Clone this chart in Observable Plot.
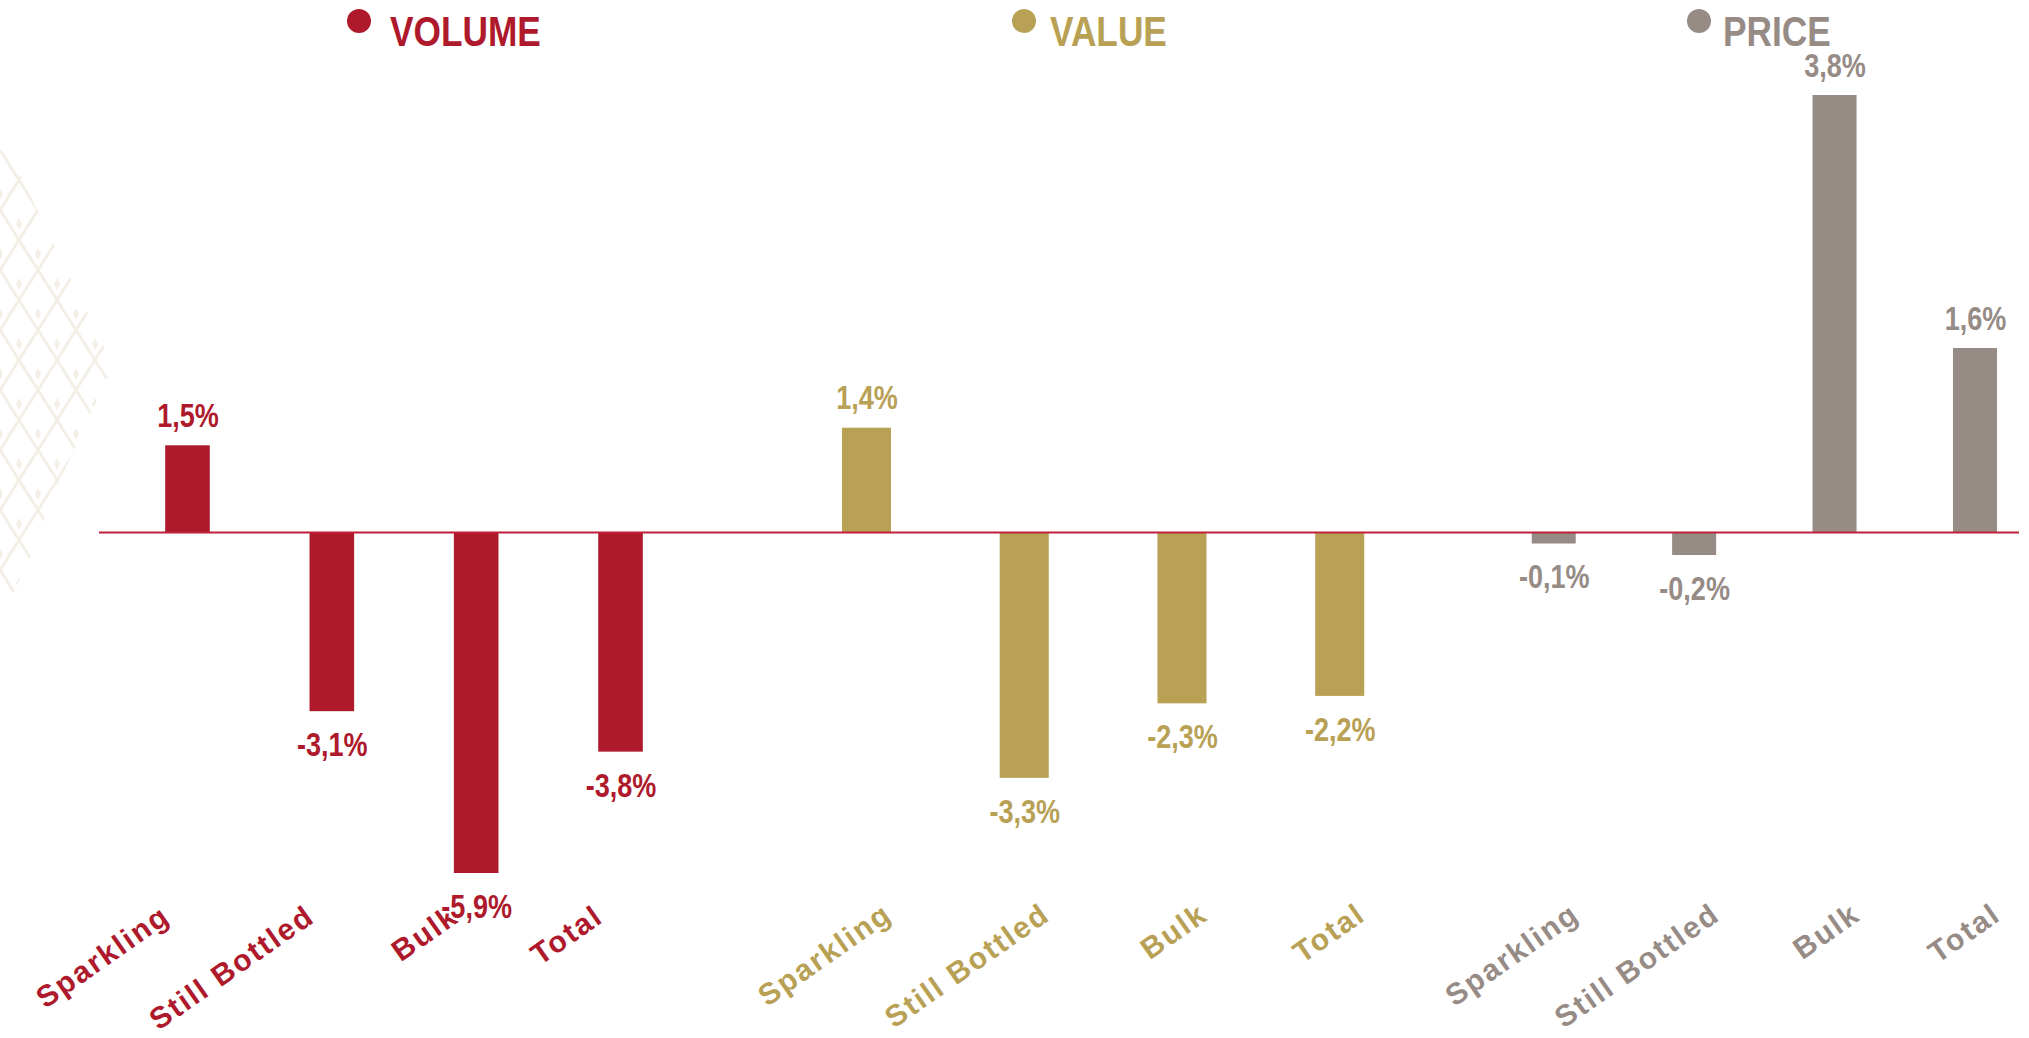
<!DOCTYPE html>
<html>
<head>
<meta charset="utf-8">
<script src="https://cdn.jsdelivr.net/npm/d3@7"></script>
<script src="https://cdn.jsdelivr.net/npm/@observablehq/plot@0.6"></script>
<style>
  html, body { margin: 0; padding: 0; background: #ffffff; }
  #wrap { position: relative; width: 2029px; height: 1038px; overflow: hidden; background: #ffffff; }
  #wrap .layer { position: absolute; left: 0; top: 0; }
  #wrap .layer svg { display: block; }
  .pattern {
    position: absolute; left: 0; top: 150px; width: 116px; height: 452px;
    background-image: url("data:image/svg+xml,%3Csvg xmlns='http://www.w3.org/2000/svg' width='38' height='60'%3E%3Cpath d='M0 0 L19 30 L38 0 M0 60 L19 30 L38 60' fill='none' stroke='%23f4efe6' stroke-width='3'/%3E%3Cpath d='M19 8 L22 14 L19 20 L16 14 Z M0 38 L3 44 L0 50 M38 38 L35 44 L38 50' fill='%23f4efe6'/%3E%3C/svg%3E");
    clip-path: polygon(0 0, 8px 0, 113px 215px, 60px 330px, 25px 420px, 8px 452px, 0 452px);
  }
  .legend { position: absolute; font-family: 'Liberation Sans', Arial, sans-serif;
            font-weight: bold; font-size: 43px; line-height: 43px; white-space: nowrap;
            transform: scaleX(0.82); transform-origin: 0 0; }
  .dot { position: absolute; width: 24px; height: 24px; border-radius: 50%; }
  g[font-size="30"] { letter-spacing: 2px; }
</style>
</head>
<body>
<div id="wrap">
  <div class="pattern"></div>
</div>
<script>
// ---- data ----
const categories = ["Sparkling", "Still Bottled", "Bulk", "Total"];
const volume = [1.5, -3.1, -5.9, -3.8];
const value  = [1.4, -3.3, -2.3, -2.2];
const price  = [-0.1, -0.2, 3.8, 1.6];
const seriesNames = ["VOLUME", "VALUE", "PRICE"];

// ---- styles / layout ----
const colors = {VOLUME: "#ae192c", VALUE: "#b8a055", PRICE: "#968b85"};
const font = "'Liberation Sans', Arial, sans-serif";
const W = 2029, H = 1038, ZERO = 532;
const layout = {
  VOLUME: {range: [115.3, 692.7], pad: 0.691, k: 57.8, ldx: -16, ly: 920, legend: {dot: 347, text: 390}},
  VALUE:  {range: [787.6, 1418.6], pad: 0.689, k: 74.5, ldx: 27, ly: 918, legend: {dot: 1012, text: 1050}},
  PRICE:  {range: [1483.5, 2045.2], pad: 0.6867, k: 115, ldx: 27, ly: 918, legend: {dot: 1687, text: 1723}}
};
const seriesValues = {VOLUME: volume, VALUE: value, PRICE: price};
const fmt = d => `${d.v.toFixed(1).replace(".", ",")}%`;

const wrap = document.getElementById("wrap");

seriesNames.forEach((name, gi) => {
  const L = layout[name];
  const color = colors[name];
  const data = categories.map((c, i) => ({cat: c, v: seriesValues[name][i]}));
  const isLast = gi === seriesNames.length - 1;
  const labelStyle = {fill: color, fontSize: 33, fontWeight: "bold", fontFamily: font,
                      stroke: "#ffffff", strokeWidth: 5, paintOrder: "stroke"};
  const chart = Plot.plot({
    width: W, height: H,
    marginTop: 0, marginBottom: 0, marginLeft: 99, marginRight: 10,
    style: {background: "transparent", overflow: "visible"},
    x: {type: "band", domain: categories, range: L.range, paddingInner: L.pad, paddingOuter: L.pad / 2, round: false, axis: null},
    y: {domain: [(ZERO - H) / L.k, ZERO / L.k], range: [H, 0], axis: null},
    marks: [
      Plot.barY(data, {x: "cat", y: "v", fill: color}),
      Plot.text(data, {x: "cat", text: "cat", frameAnchor: "bottom", rotate: -35, textAnchor: "end", lineAnchor: "bottom",
        dx: L.ldx, dy: L.ly - H, fill: color, fontSize: 30, fontWeight: "bold", fontFamily: font}),
      Plot.text(data, {filter: d => d.v >= 0, x: "cat", y: "v", text: fmt, lineAnchor: "bottom", dy: -19, ...labelStyle}),
      Plot.text(data, {filter: d => d.v < 0, x: "cat", y: "v", text: fmt, lineAnchor: "top", dy: 21, ...labelStyle}),
      isLast ? Plot.ruleY([0], {stroke: "#c0203a", strokeWidth: 2}) : null
    ]
  });
  // condensed look for value labels (Arial Narrow style)
  d3.select(chart).selectAll('g[font-size="33"] text').each(function() {
    const t = this.getAttribute("transform");
    if (t) {
      this.setAttribute("transform", t + " scale(0.82,1)");
    } else {
      const x = +this.getAttribute("x") || 0, y = +this.getAttribute("y") || 0;
      this.removeAttribute("x"); this.removeAttribute("y");
      this.setAttribute("transform", `translate(${x},${y}) scale(0.82,1)`);
    }
  });
  const layer = document.createElement("div");
  layer.className = "layer";
  layer.appendChild(chart);
  wrap.appendChild(layer);

  // legend
  const dot = document.createElement("div");
  dot.className = "dot";
  dot.style.left = L.legend.dot + "px";
  dot.style.top = "9px";
  dot.style.background = color;
  wrap.appendChild(dot);
  const lab = document.createElement("div");
  lab.className = "legend";
  lab.style.left = L.legend.text + "px";
  lab.style.top = "10px";
  lab.style.color = color;
  lab.textContent = name;
  wrap.appendChild(lab);
});
</script>
</body>
</html>
